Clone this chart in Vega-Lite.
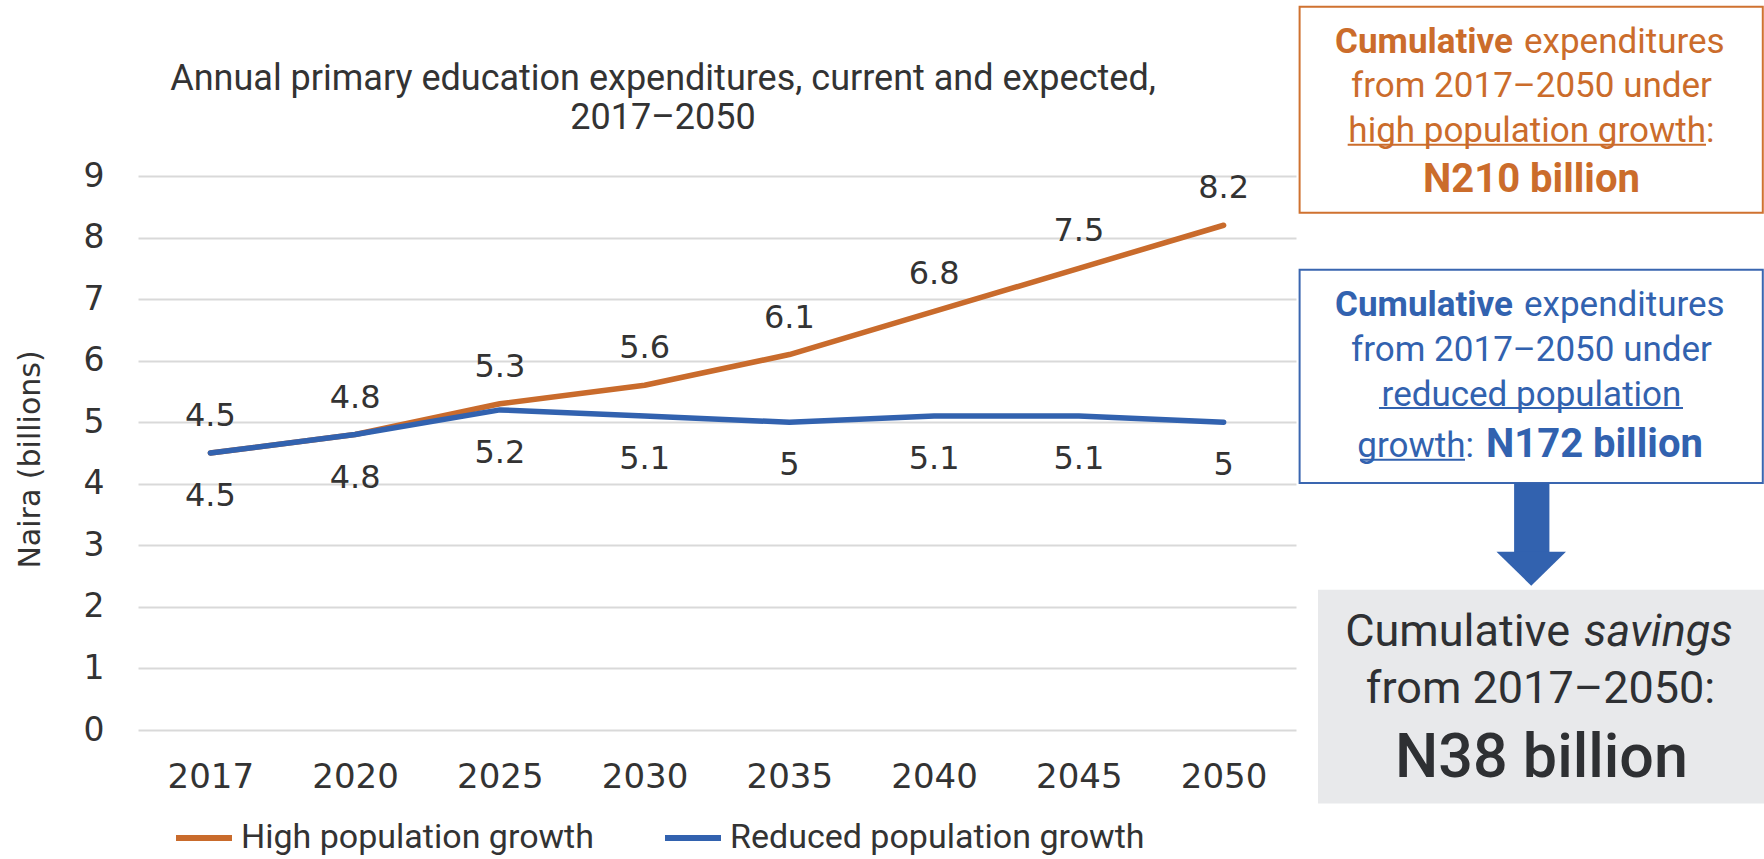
{
  "$schema": "https://vega.github.io/schema/vega-lite/v6.json",
  "background": "white",
  "padding": {"left": 15, "top": 5, "right": 0, "bottom": 0},
  "bounds": "flush",
  "spacing": 3,
  "config": {"view": {"stroke": null}},
  "hconcat": [
    {
      "width": 1158,
      "height": 554,
      "title": {
        "text": ["Annual primary education expenditures, current and expected,", "2017–2050"],
        "font": "Roboto",
        "fontSize": 36,
        "fontWeight": "normal",
        "color": "#333333",
        "anchor": "middle",
        "frame": "group",
        "dx": -54,
        "offset": 23,
        "lineHeight": 39
      },
      "data": {
        "values": [
          {"year": "2017", "series": "High population growth", "value": 4.5},
          {"year": "2020", "series": "High population growth", "value": 4.8},
          {"year": "2025", "series": "High population growth", "value": 5.3},
          {"year": "2030", "series": "High population growth", "value": 5.6},
          {"year": "2035", "series": "High population growth", "value": 6.1},
          {"year": "2040", "series": "High population growth", "value": 6.8},
          {"year": "2045", "series": "High population growth", "value": 7.5},
          {"year": "2050", "series": "High population growth", "value": 8.2},
          {"year": "2017", "series": "Reduced population growth", "value": 4.5},
          {"year": "2020", "series": "Reduced population growth", "value": 4.8},
          {"year": "2025", "series": "Reduced population growth", "value": 5.2},
          {"year": "2030", "series": "Reduced population growth", "value": 5.1},
          {"year": "2035", "series": "Reduced population growth", "value": 5.0},
          {"year": "2040", "series": "Reduced population growth", "value": 5.1},
          {"year": "2045", "series": "Reduced population growth", "value": 5.1},
          {"year": "2050", "series": "Reduced population growth", "value": 5.0}
        ]
      },
      "encoding": {
        "x": {
          "field": "year",
          "type": "ordinal",
          "sort": null,
          "scale": {"type": "point", "padding": 0.5},
          "axis": {
            "title": null,
            "labelAngle": 0,
            "labelFont": "DejaVu Sans",
            "labelFontSize": 34,
            "labelColor": "#333333",
            "labelPadding": 30,
            "ticks": false,
            "tickSize": 0,
            "domain": false,
            "grid": false
          }
        },
        "y": {
          "field": "value",
          "type": "quantitative",
          "scale": {"domain": [0, 9], "nice": false},
          "axis": {
            "values": [0, 1, 2, 3, 4, 5, 6, 7, 8, 9],
            "grid": true,
            "gridColor": "#D9D9D9",
            "gridWidth": 2,
            "ticks": false,
            "tickSize": 0,
            "domain": false,
            "labelFont": "DejaVu Sans",
            "labelFontSize": 33,
            "labelColor": "#333333",
            "labelPadding": 34,
            "title": "Naira (billions)",
            "titleFont": "DejaVu Sans",
            "titleFontSize": 30,
            "titleFontWeight": "normal",
            "titleColor": "#333333",
            "titleAngle": -90,
            "titleAlign": "center",
            "titleBaseline": "alphabetic",
            "titleX": -99,
            "titleY": 283
          }
        }
      },
      "layer": [
        {
          "mark": {"type": "line", "strokeWidth": 5.5, "strokeCap": "round", "strokeJoin": "round"},
          "encoding": {
            "color": {
              "field": "series",
              "type": "nominal",
              "scale": {
                "domain": ["High population growth", "Reduced population growth"],
                "range": ["#C96B2C", "#3262AF"]
              },
              "legend": {
                "orient": "none",
                "legendX": 35,
                "legendY": 631,
                "direction": "horizontal",
                "title": null,
                "symbolType": "stroke",
                "symbolStrokeWidth": 6,
                "symbolSize": 3136,
                "labelFont": "Roboto",
                "labelFontSize": 34,
                "labelColor": "#333333",
                "labelOffset": 6,
                "labelLimit": 0,
                "columnPadding": 59,
                "padding": 0
              }
            }
          }
        },
        {
          "transform": [{"filter": "datum.series === 'High population growth'"}],
          "mark": {"type": "text", "font": "DejaVu Sans", "fontSize": 32, "color": "#333333", "baseline": "alphabetic", "dy": -27},
          "encoding": {"text": {"field": "value", "type": "quantitative", "format": ".1~f"}}
        },
        {
          "transform": [{"filter": "datum.series === 'Reduced population growth'"}],
          "mark": {"type": "text", "font": "DejaVu Sans", "fontSize": 32, "color": "#333333", "baseline": "alphabetic", "dy": 53},
          "encoding": {"text": {"field": "value", "type": "quantitative", "format": ".1~f"}}
        }
      ]
    },
    {
      "width": 465,
      "height": 554,
      "data": {"values": [{"panel": "notes"}]},
      "encoding": {
        "x": {"datum": 0, "type": "quantitative", "scale": {"domain": [0, 100], "nice": false, "zero": false}, "axis": null},
        "y": {"datum": 0, "type": "quantitative", "scale": {"domain": [0, 100], "nice": false, "zero": false}, "axis": null}
      },
      "layer": [
        {
          "mark": {"type": "rect", "fill": "white", "stroke": "#CF7230", "strokeWidth": 2},
          "encoding": {"x": {"datum": 0.13}, "x2": {"datum": 99.74}, "y": {"datum": 130.56}, "y2": {"datum": 93.38}}
        },
        {
          "mark": {"type": "rect", "fill": "white", "stroke": "#3A66B0", "strokeWidth": 2},
          "encoding": {"x": {"datum": 0.13}, "x2": {"datum": 99.74}, "y": {"datum": 83.09}, "y2": {"datum": 44.58}}
        },
        {
          "mark": {"type": "rect", "fill": "#E8E9EB"},
          "encoding": {"x": {"datum": 4.09}, "x2": {"datum": 100}, "y": {"datum": 25.32}, "y2": {"datum": -13.25}}
        },
        {
          "mark": {"type": "rect", "fill": "#3262AF"},
          "encoding": {"x": {"datum": 46.26}, "x2": {"datum": 53.85}, "y": {"datum": 44.58}, "y2": {"datum": 31.82}}
        },
        {
          "mark": {"type": "point", "shape": "M-1,-0.49L1,-0.49L0,0.49Z", "size": 4830, "filled": true, "fill": "#3262AF", "opacity": 1, "strokeWidth": 0},
          "encoding": {"x": {"datum": 49.94}, "y": {"datum": 29.12}}
        },
        {
          "mark": {"type": "text", "text": "Cumulative", "font": "Roboto", "fontSize": 35, "fontWeight": "bold", "color": "#CB6C2B", "align": "right", "baseline": "alphabetic"},
          "encoding": {"x": {"datum": 46.02}, "y": {"datum": 122.13}}
        },
        {
          "mark": {"type": "text", "text": "expenditures", "font": "Roboto", "fontSize": 35, "color": "#CB6C2B", "align": "left", "baseline": "alphabetic"},
          "encoding": {"x": {"datum": 48.39}, "y": {"datum": 122.13}}
        },
        {
          "mark": {"type": "text", "text": "from 2017–2050 under", "font": "Roboto", "fontSize": 35, "color": "#CB6C2B", "align": "center", "baseline": "alphabetic"},
          "encoding": {"x": {"datum": 50}, "y": {"datum": 114.19}}
        },
        {
          "mark": {"type": "text", "text": "high population growth:", "font": "Roboto", "fontSize": 35, "color": "#CB6C2B", "align": "center", "baseline": "alphabetic"},
          "encoding": {"x": {"datum": 49.98}, "y": {"datum": 106.07}}
        },
        {
          "mark": {"type": "rule", "color": "#CB6C2B", "strokeWidth": 2},
          "encoding": {"x": {"datum": 10.47}, "x2": {"datum": 87.53}, "y": {"datum": 105.65}}
        },
        {
          "mark": {"type": "text", "text": "N210 billion", "font": "Roboto", "fontSize": 40, "fontWeight": "bold", "color": "#CB6C2B", "align": "center", "baseline": "alphabetic"},
          "encoding": {"x": {"datum": 50}, "y": {"datum": 97.04}}
        },
        {
          "mark": {"type": "text", "text": "Cumulative", "font": "Roboto", "fontSize": 35, "fontWeight": "bold", "color": "#3262AF", "align": "right", "baseline": "alphabetic"},
          "encoding": {"x": {"datum": 46.02}, "y": {"datum": 74.78}}
        },
        {
          "mark": {"type": "text", "text": "expenditures", "font": "Roboto", "fontSize": 35, "color": "#3262AF", "align": "left", "baseline": "alphabetic"},
          "encoding": {"x": {"datum": 48.39}, "y": {"datum": 74.78}}
        },
        {
          "mark": {"type": "text", "text": "from 2017–2050 under", "font": "Roboto", "fontSize": 35, "color": "#3262AF", "align": "center", "baseline": "alphabetic"},
          "encoding": {"x": {"datum": 50}, "y": {"datum": 66.66}}
        },
        {
          "mark": {"type": "text", "text": "reduced population", "font": "Roboto", "fontSize": 35, "color": "#3262AF", "align": "center", "baseline": "alphabetic"},
          "encoding": {"x": {"datum": 50}, "y": {"datum": 58.54}}
        },
        {
          "mark": {"type": "rule", "color": "#3262AF", "strokeWidth": 2},
          "encoding": {"x": {"datum": 17.2}, "x2": {"datum": 82.58}, "y": {"datum": 58.12}}
        },
        {
          "mark": {"type": "text", "text": "growth:", "font": "Roboto", "fontSize": 35, "color": "#3262AF", "align": "right", "baseline": "alphabetic"},
          "encoding": {"x": {"datum": 37.63}, "y": {"datum": 49.33}}
        },
        {
          "mark": {"type": "rule", "color": "#3262AF", "strokeWidth": 2},
          "encoding": {"x": {"datum": 13.12}, "x2": {"datum": 35.7}, "y": {"datum": 48.79}}
        },
        {
          "mark": {"type": "text", "text": "N172 billion", "font": "Roboto", "fontSize": 40, "fontWeight": "bold", "color": "#3262AF", "align": "left", "baseline": "alphabetic"},
          "encoding": {"x": {"datum": 40.22}, "y": {"datum": 49.33}}
        },
        {
          "mark": {"type": "text", "text": "Cumulative", "font": "Roboto", "fontSize": 45, "color": "#2E3033", "align": "right", "baseline": "alphabetic"},
          "encoding": {"x": {"datum": 58.28}, "y": {"datum": 15.22}}
        },
        {
          "mark": {"type": "text", "text": "savings", "font": "Roboto", "fontSize": 45, "fontStyle": "italic", "color": "#2E3033", "align": "left", "baseline": "alphabetic"},
          "encoding": {"x": {"datum": 61.29}, "y": {"datum": 15.22}}
        },
        {
          "mark": {"type": "text", "text": "from 2017–2050:", "font": "Roboto", "fontSize": 45, "color": "#2E3033", "align": "center", "baseline": "alphabetic"},
          "encoding": {"x": {"datum": 51.94}, "y": {"datum": 4.8}}
        },
        {
          "mark": {"type": "text", "text": "N38 billion", "font": "Roboto", "fontSize": 61, "fontWeight": 500, "color": "#2E3033", "align": "center", "baseline": "alphabetic"},
          "encoding": {"x": {"datum": 52.15}, "y": {"datum": -8.56}}
        }
      ]
    }
  ]
}
